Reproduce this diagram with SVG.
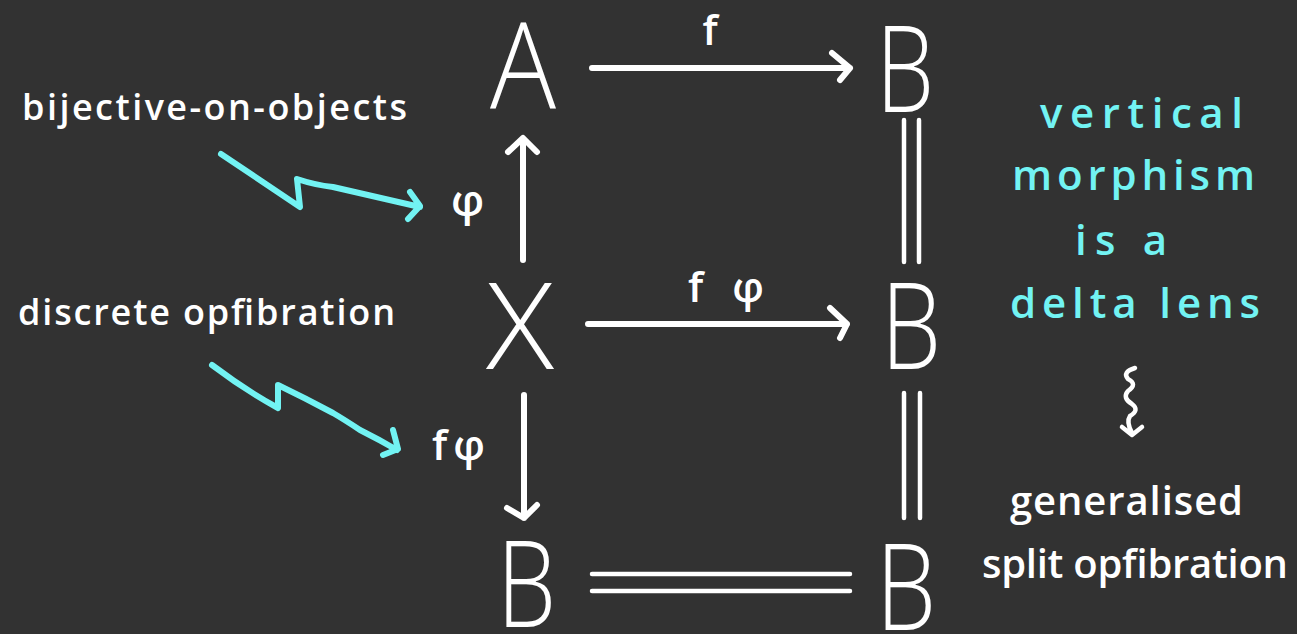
<svg xmlns="http://www.w3.org/2000/svg" width="1297" height="634" viewBox="0 0 1297 634">
<style>
.big{font-family:"Open Sans","Liberation Sans",sans-serif;font-weight:300;font-size:120px;fill:#fff}
.lbl{font-family:"Open Sans","Noto Sans","Liberation Sans",sans-serif;font-weight:600;fill:#fff}
.cy{font-family:"Open Sans","Noto Sans","Liberation Sans",sans-serif;font-weight:600;fill:#72f3f3;font-size:42px}
.ln{fill:none;stroke:#fff;stroke-width:6;stroke-linecap:round;stroke-linejoin:round}
.dl{fill:none;stroke:#fff;stroke-width:4.5;stroke-linecap:round}
.sq{fill:none;stroke:#72f3f3;stroke-width:6;stroke-linecap:round;stroke-linejoin:round}
</style>
<rect width="1297" height="634" fill="#323232"/>
<g id="node-A"><text class="big" x="490" y="108" textLength="66" lengthAdjust="spacingAndGlyphs">A</text></g>
<g id="node-B1"><text class="big" x="876" y="112" textLength="58" lengthAdjust="spacingAndGlyphs">B</text></g>
<g id="node-X"><text class="big" x="486" y="369" textLength="68" lengthAdjust="spacingAndGlyphs">X</text></g>
<g id="node-B2"><text class="big" x="881" y="369" textLength="60" lengthAdjust="spacingAndGlyphs">B</text></g>
<g id="node-B3"><text class="big" x="497" y="627" textLength="59" lengthAdjust="spacingAndGlyphs">B</text></g>
<g id="node-B4"><text class="big" x="876" y="630" textLength="60" lengthAdjust="spacingAndGlyphs">B</text></g>
<g id="connectors">
<path class="ln" d="M592 68 H850 M832 53 L850 68 L840 80"/>
<path class="ln" d="M588 324 H847 M830 308 L847 324 L840 338"/>
<path class="ln" d="M523 260 V140 M508 152 L523 138 L537 152"/>
<path class="ln" d="M524 395 V518 M507 508 L524 518 L537 505"/>
<path class="dl" d="M904 120 V262 M919 120 V262"/>
<path class="dl" d="M904 393 V518 M920 393 V518"/>
<path class="dl" d="M592 574 H850 M592 591 H850"/>
<path class="sq" d="M221 154 Q260 180 300 207 L297 179 Q315 185 333 187 Q380 198 420 207 M410 192 L420 206 L408 219"/>
<path class="sq" d="M212 365 Q245 390 278 408 L278 385 Q305 398 333 413 Q345 420 360 430 Q380 440 397 450 M393 430 L398 449 L383 455"/>
<path class="ln" style="stroke-width:4.5" d="M1135 368 Q1122 372 1128 379 Q1138 384 1128 391 Q1122 398 1132 404 Q1140 410 1130 416 Q1126 422 1132 433 M1122 427 L1132 435 L1142 427"/>
</g>
<g id="labels">
<text class="lbl" x="710" y="45" font-size="42" text-anchor="middle">f</text>
<text class="lbl" x="688" y="302" font-size="42" textLength="76">f φ</text>
<text class="lbl" x="451" y="216" font-size="44">φ</text>
<text class="lbl" x="432" y="460" font-size="42" letter-spacing="6">fφ</text>
<text class="lbl" x="22" y="120" font-size="36" textLength="385">bijective-on-objects</text>
<text class="lbl" x="18" y="325" font-size="36" textLength="377">discrete opfibration</text>
<text class="cy" x="1040" y="128" textLength="203">vertical</text>
<text class="cy" x="1012" y="190" textLength="243">morphism</text>
<text class="cy" x="1075" y="255" textLength="92">is a</text>
<text class="cy" x="1010" y="318" textLength="250">delta lens</text>
<text class="lbl" x="1010" y="515" font-size="40" textLength="233">generalised</text>
<text class="lbl" x="982" y="578" font-size="40" textLength="306">split opfibration</text>
</g>
</svg>
